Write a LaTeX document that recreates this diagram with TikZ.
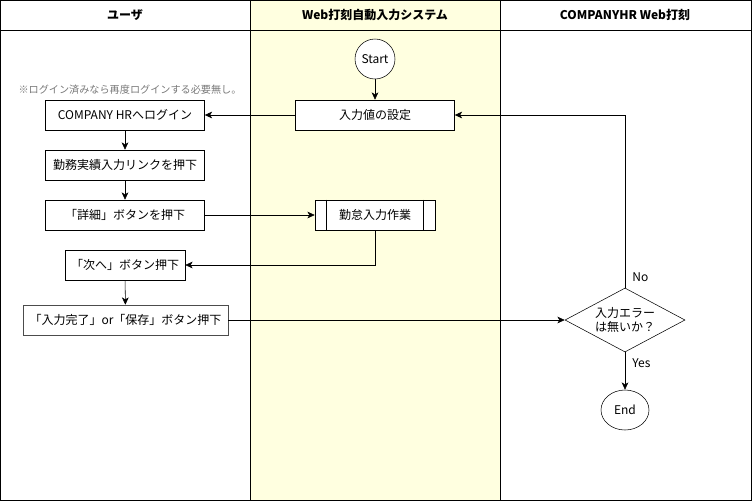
\documentclass[tikz,border=0pt]{standalone}
\usepackage{fontspec}
\setmainfont{Noto Sans CJK JP}
\usepackage{tikz}
\usepackage{xcolor}
\usetikzlibrary{positioning, arrows, arrows.meta}
\usetikzlibrary{shapes, positioning}
\definecolor{lanefill}{RGB}{255,255,224}
\definecolor{notegray}{RGB}{120,120,120}

\begin{document}
\begin{tikzpicture}[x=0.75pt, y=-0.75pt, font=\fontsize{9}{11}\selectfont,
        stepbox/.style={rectangle, draw, minimum width=119.25pt, minimum height=22.5pt, inner sep=1pt},
        term/.style={ellipse, draw, fill=white, inner sep=0pt},
        lane/.style={draw, line width=0.6pt},
        arr/.style={-{Stealth[length=5.5pt, width=5pt, inset=1.5pt]}}]
                    \useasboundingbox (0, 0) rectangle (752, 501);
                    % lanes
                    \fill[lanefill] (250, 0) rectangle (500, 500);
                    \draw[lane] (0.5, 0.5) rectangle (751.5, 500.5);
                    \draw[lane] (0.5, 30) -- (751.5, 30);
                    \draw[lane] (250, 0.5) -- (250, 500.5);
                    \draw[lane] (500, 0.5) -- (500, 500.5);
                    \node[font=\fontsize{9}{11}\selectfont\bfseries] (h1) at (125, 15) {ユーザ};
                    \node[font=\fontsize{9}{11}\selectfont\bfseries] (h2) at (375, 15) {Web打刻自動入力システム};
                    \node[font=\fontsize{9}{11}\selectfont\bfseries] (h3) at (625, 15) {COMPANYHR Web打刻};

                    \node[term, minimum width=30pt, minimum height=30pt] (st) at (375, 59) {Start};
                    \node[stepbox, fill=white] (set) at (375, 115) {入力値の設定};
                    \node[text=notegray, font=\fontsize{7.6}{9}\selectfont] (note) at (130, 90) {※ログイン済みなら再度ログインする必要無し。};
                    \node[stepbox] (login) at (125, 115) {COMPANY HRへログイン};
                    \node[stepbox] (link) at (125, 165) {勤務実績入力リンクを押下};
                    \node[stepbox] (det) at (125, 215) {「詳細」ボタンを押下};
                    \node[stepbox, fill=white, minimum width=90pt] (work) at (375, 215) {勤怠入力作業};
                    \draw ([xshift=9pt]work.north west) -- ([xshift=9pt]work.south west);
                    \draw ([xshift=-9pt]work.north east) -- ([xshift=-9pt]work.south east);
                    \node[stepbox, minimum width=90pt] (next) at (125, 265) {「次へ」ボタン押下};
                    \node[stepbox, draw=black!70, minimum width=153.75pt] (done) at (125.5, 320) {「入力完了」or「保存」ボタン押下};
                    \node[diamond, draw, aspect=1.875, minimum width=90pt, minimum height=48pt, inner sep=0pt, align=center, font=\fontsize{9}{10}\selectfont] (chk) at (625, 320) {入力エラー\\は無いか？};
                    \node[term, minimum width=36pt, minimum height=30pt] (end) at (625, 410) {End};

                    \draw[arr] (st) -- (set);
                    \draw[arr] (set) -- (login);
                    \draw[arr] (login) -- (link);
                    \draw[arr] (link) -- (det);
                    \draw[arr] (det) -- (work);
                    \draw[arr] (work.south) |- (next.east);
                    \draw[arr] (next) -- (done);
                    \draw[arr] (done) -- (chk);
                    \draw[arr] (chk.north) |- node[pos=0.03, right=2pt] {No} (set.east);
                    \draw[arr] (chk.south) -- node[pos=0.3, right=2pt] {Yes} (end);
                \end{tikzpicture}
\end{document}
